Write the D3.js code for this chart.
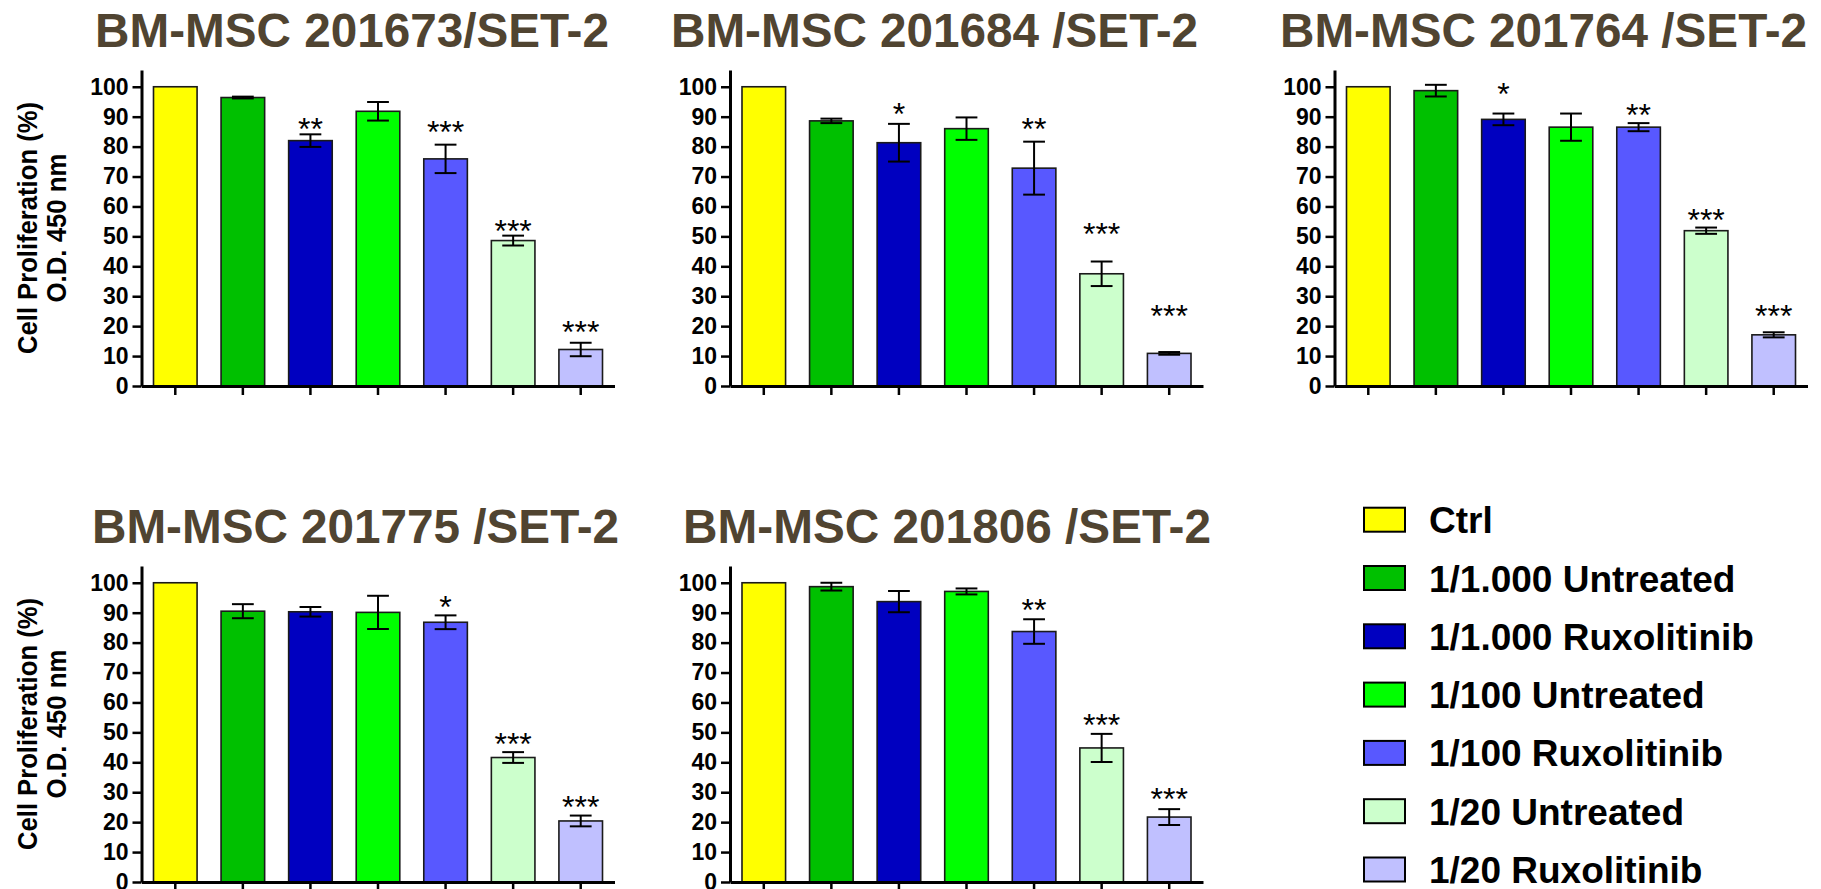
<!DOCTYPE html>
<html lang="en">
<head>
<meta charset="UTF-8" />
<title>BM-MSC SET-2 proliferation</title>
<script src="https://d3js.org/d3.v7.min.js"></script>
<style>
    body { margin: 0; background: #fff; }
    svg { display: block; font-family: "Liberation Sans", Arial, sans-serif; }
    .axis path, .axis line { stroke: #000; }
    .axis text { font-size: 23px; font-weight: bold; fill: #000; }
</style>
</head>
<body>
<svg id="chart" width="1821" height="889"></svg>
<script>
    // groups and colours (same order in every panel)
    var groups = ["Ctrl", "1/1.000 Untreated", "1/1.000 Ruxolitinib", "1/100 Untreated",
                  "1/100 Ruxolitinib", "1/20 Untreated", "1/20 Ruxolitinib"];
    var colors = ["#ffff00", "#00c000", "#0000c0", "#00ff00", "#5858ff", "#ccffcc", "#c0c0ff"];

    var titles = ["BM-MSC 201673/SET-2", "BM-MSC 201684 /SET-2", "BM-MSC 201764 /SET-2",
                  "BM-MSC 201775 /SET-2", "BM-MSC 201806 /SET-2"];

    // mean cell proliferation (%) per panel
    var means1 = [100, 96.4, 82.0, 91.8, 75.9, 48.6, 12.2];
    var means2 = [100, 88.6, 81.3, 86.0, 72.8, 37.5, 10.9];
    var means3 = [100, 98.7, 89.1, 86.5, 86.5, 51.9, 17.1];
    var means4 = [100, 90.5, 90.3, 90.1, 86.8, 41.6, 20.4];
    var means5 = [100, 98.7, 93.7, 97.1, 83.7, 44.8, 21.7];

    // error (+/-)
    var err1 = [0, 0.3, 2.1, 3.1, 4.75, 1.65, 2.25];
    var err2 = [0, 0.75, 6.3, 3.75, 8.85, 4.1, 0.45];
    var err3 = [0, 1.95, 1.95, 4.55, 1.35, 1.05, 0.85];
    var err4 = [0, 2.35, 1.6, 5.55, 2.3, 1.8, 1.8];
    var err5 = [0, 1.3, 3.55, 1.0, 4.1, 4.7, 2.65];

    // significance marks and the value where they sit
    var stars1 = ["", "", "**", "", "***", "***", "***"];
    var stars2 = ["", "", "*", "", "**", "***", "***"];
    var stars3 = ["", "", "*", "", "**", "***", "***"];
    var stars4 = ["", "", "", "", "*", "***", "***"];
    var stars5 = ["", "", "", "", "**", "***", "***"];
    var starAt1 = [0, 0, 87.2, 0, 86.1, 53.2, 19.3];
    var starAt2 = [0, 0, 92.4, 0, 87.1, 52.1, 24.6];
    var starAt3 = [0, 0, 98.9, 0, 91.9, 56.8, 24.6];
    var starAt4 = [0, 0, 0, 0, 93.3, 47.5, 26.3];
    var starAt5 = [0, 0, 0, 0, 92.4, 53.9, 29.1];

    var yTicks = [0, 10, 20, 30, 40, 50, 60, 70, 80, 90, 100];

    var svg = d3.select("#chart");

    // panel placement: y axis x, zero line y, title span, y label shown?
    var panels = [
        { ax: 141.5, y0: 386, tx0: 95, tx1: 609, ty: 47, label: true, m: means1, e: err1, s: stars1, sa: starAt1 },
        { ax: 730, y0: 386, tx0: 671, tx1: 1198, ty: 47, label: false, m: means2, e: err2, s: stars2, sa: starAt2 },
        { ax: 1334.5, y0: 386, tx0: 1280, tx1: 1807, ty: 47, label: false, m: means3, e: err3, s: stars3, sa: starAt3 },
        { ax: 141.5, y0: 882, tx0: 92, tx1: 619, ty: 543, label: true, m: means4, e: err4, s: stars4, sa: starAt4 },
        { ax: 730, y0: 882, tx0: 683, tx1: 1211, ty: 543, label: false, m: means5, e: err5, s: stars5, sa: starAt5 }
    ];

    panels.forEach(function (p, pi) {
        var g = svg.append("g");

        var y = d3.scaleLinear()
            .domain([0, 105.6])
            .range([p.y0, p.y0 - 316]);

        var x = d3.scaleBand()
            .domain(d3.range(groups.length))
            .range([p.ax, p.ax + 473])
            .paddingInner(0.355)
            .paddingOuter(0.1775);

        // title
        g.append("text")
            .attr("x", p.tx0)
            .attr("y", p.ty)
            .attr("textLength", p.tx1 - p.tx0)
            .attr("lengthAdjust", "spacingAndGlyphs")
            .attr("fill", "#504431")
            .style("font-size", "48px")
            .style("font-weight", "bold")
            .text(titles[pi]);

        // bars
        g.selectAll("rect.bar")
            .data(p.m)
            .enter()
            .append("rect")
            .attr("class", "bar")
            .attr("x", (d, i) => x(i))
            .attr("y", d => y(d))
            .attr("width", x.bandwidth())
            .attr("height", d => p.y0 - y(d))
            .attr("fill", (d, i) => colors[i])
            .attr("stroke", "#1a1a1a")
            .attr("stroke-width", 1.6);

        // error bars
        var cap = x.bandwidth() / 4;
        p.m.forEach(function (d, i) {
            if (!p.e[i]) return;
            var cx = x(i) + x.bandwidth() / 2;
            var hi = y(d + p.e[i]), lo = y(d - p.e[i]);
            g.append("line").attr("x1", cx).attr("x2", cx).attr("y1", hi).attr("y2", lo)
                .attr("stroke", "#000").attr("stroke-width", 2);
            [hi, lo].forEach(function (yy) {
                g.append("line").attr("x1", cx - cap).attr("x2", cx + cap).attr("y1", yy).attr("y2", yy)
                    .attr("stroke", "#000").attr("stroke-width", 2);
            });
        });

        // significance stars
        var marked = d3.range(groups.length).filter(i => p.s[i] !== "");
        g.selectAll("text.star")
            .data(marked)
            .enter()
            .append("text")
            .attr("class", "star")
            .attr("x", i => x(i) + x.bandwidth() / 2)
            .attr("y", i => y(p.sa[i]) + 15)
            .attr("text-anchor", "middle")
            .style("font-size", "32px")
            .text(i => p.s[i]);

        // y axis
        g.append("g")
            .attr("class", "axis")
            .attr("transform", "translate(" + p.ax + ",0)")
            .call(d3.axisLeft(y).tickValues(yTicks).tickSize(9).tickSizeOuter(0).tickPadding(4))
            .call(a => a.select(".domain").attr("stroke-width", 3))
            .call(a => a.selectAll(".tick line").attr("stroke-width", 2.5));

        // x axis
        g.append("g")
            .attr("class", "axis")
            .attr("transform", "translate(0," + p.y0 + ")")
            .call(d3.axisBottom(x).tickSize(9).tickSizeOuter(0).tickFormat(""))
            .call(a => a.select(".domain").attr("stroke-width", 3))
            .call(a => a.selectAll(".tick line").attr("stroke-width", 2.5));

        // y label
        if (p.label) {
            var mid = p.y0 - 158;
            var lab = g.append("text")
                .attr("transform", "rotate(-90)")
                .attr("text-anchor", "middle")
                .style("font-size", "27px")
                .style("font-weight", "bold");
            lab.append("tspan").attr("x", -mid).attr("y", 37)
                .attr("textLength", 252).attr("lengthAdjust", "spacingAndGlyphs")
                .text("Cell Proliferation (%)");
            lab.append("tspan").attr("x", -mid).attr("y", 66)
                .attr("textLength", 149).attr("lengthAdjust", "spacingAndGlyphs")
                .text("O.D. 450 nm");
        }
    });

    // legend
    var legend = svg.append("g").attr("transform", "translate(1364,507.7)");
    var rows = legend.selectAll("g")
        .data(groups)
        .enter()
        .append("g")
        .attr("transform", (d, i) => "translate(0," + i * 58.3 + ")");
    rows.append("rect")
        .attr("width", 41)
        .attr("height", 24)
        .attr("fill", (d, i) => colors[i])
        .attr("stroke", "#000")
        .attr("stroke-width", 2);
    rows.append("text")
        .attr("x", 65)
        .attr("y", 25.5)
        .style("font-size", "37px")
        .style("font-weight", "bold")
        .text(d => d);
</script>
</body>
</html>
